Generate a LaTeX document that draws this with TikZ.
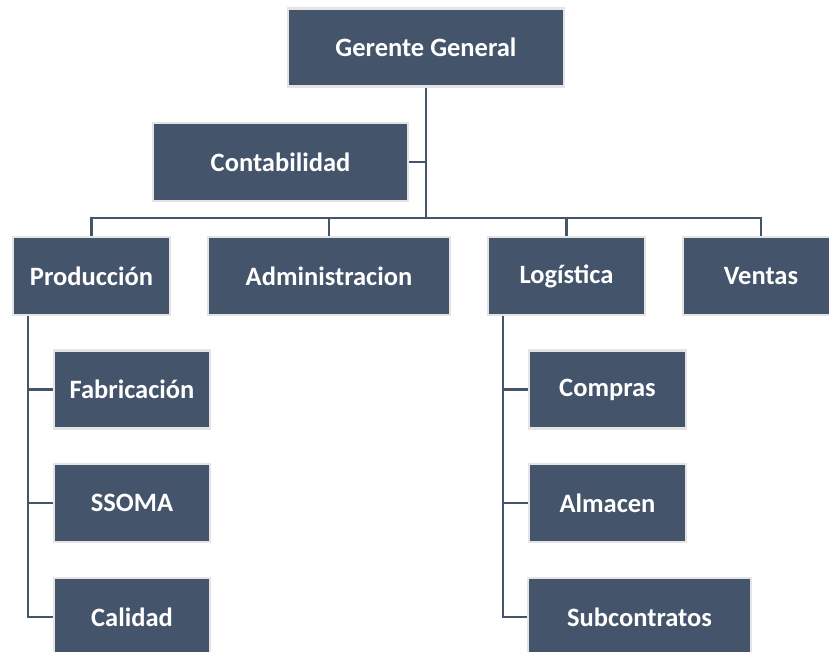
\documentclass[tikz,border=0pt]{standalone}
\usepackage{fontspec}
\setmainfont{Carlito}
\definecolor{boxfill}{HTML}{44546A}
\definecolor{boxedge}{HTML}{E4E4E4}
\begin{document}
\begin{tikzpicture}[x=1pt,y=-1pt,
  unit/.style={rectangle, fill=boxfill, draw=boxedge, line width=2.5pt,
    minimum height=78pt, text=white, inner sep=0pt,
    font=\fontsize{26.5}{30}\selectfont\bfseries},
  link/.style={draw=boxfill, line width=2.5pt}]
\useasboundingbox (0,0) rectangle (829,651);
\clip (0,0) rectangle (829,651);

% top level
\node[unit, minimum width=276pt] (gg)   at (426,47.5) {Gerente General};
\node[unit, minimum width=255pt] (cont) at (280.5,162) {Contabilidad};

% departments
\node[unit, minimum width=157pt] (prod) at (91.5,276) {Producción};
\node[unit, minimum width=242pt] (adm)  at (329,276)  {Administracion};
\node[unit, minimum width=157pt] (log)  at (566.5,276) {Logística};
\node[unit, minimum width=156pt] (ven)  at (761,276)  {Ventas};

% production units
\node[unit, minimum width=156pt] (fab)   at (132,389.5) {Fabricación};
\node[unit, minimum width=156pt] (ssoma) at (132,503)   {SSOMA};
\node[unit, minimum width=156pt] (cal)   at (132,617)   {Calidad};

% logistics units
\node[unit, minimum width=157pt] (comp) at (607.5,389.5) {Compras};
\node[unit, minimum width=157pt] (alm)  at (607.5,503)   {Almacen};
\node[unit, minimum width=223pt] (sub)  at (639.5,617)   {Subcontratos};

% connectors
\coordinate (bus) at (0,218);
\draw[link] (gg.south) -- (gg.south |- bus);
\draw[link] (cont.east) -- (gg.south |- cont.east);
\draw[link] (prod.north) -- (prod.north |- bus) -- (ven.north |- bus) -- (ven.north);
\draw[link] (adm.north) -- (adm.north |- bus);
\draw[link] (log.north) -- (log.north |- bus);

\coordinate (ptrunk) at ([xshift=16pt]prod.south west);
\draw[link] (ptrunk) |- (cal.west);
\draw[link] (fab.west) -- (fab.west -| ptrunk);
\draw[link] (ssoma.west) -- (ssoma.west -| ptrunk);

\coordinate (ltrunk) at ([xshift=16pt]log.south west);
\draw[link] (ltrunk) |- (sub.west);
\draw[link] (comp.west) -- (comp.west -| ltrunk);
\draw[link] (alm.west) -- (alm.west -| ltrunk);
\end{tikzpicture}
\end{document}
